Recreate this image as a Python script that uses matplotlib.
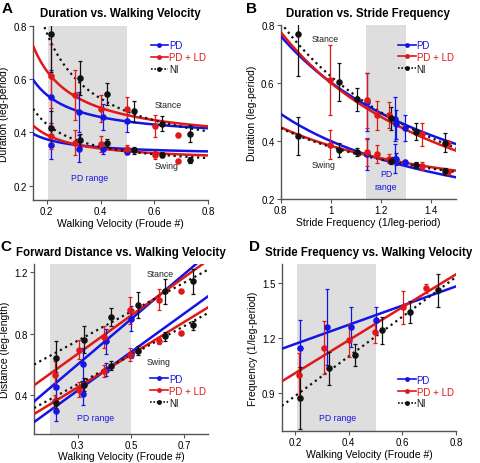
import matplotlib.pyplot as plt
import numpy as np

plt.rcParams['font.family'] = ['Liberation Sans', 'DejaVu Sans']

BLUE = '#1414e6'
RED = '#e01818'
BLACK = '#111111'

# ---- walking velocity (Froude #) of each group
vel_pd = [0.218, 0.319, 0.408, 0.5]
vel_ld = [0.216, 0.307, 0.40, 0.498, 0.604, 0.688]
vel_ni = [0.218, 0.325, 0.424, 0.525, 0.629, 0.733]

# ---- stride frequency (1/leg-period)
freq_pd = [1.145, 1.258, 1.26, 1.298]
freq_pd_err = [0.15, 0.21, 0.11, 0.07]
freq_ld = [0.996, 1.145, 1.185, 1.233, 1.365, 1.47]
freq_ld_err = [0.12, 0.145, 0.09, 0.06, 0.09, 0.025]
freq_ni = [0.869, 1.033, 1.106, 1.24, 1.339, 1.458]
freq_ni_err = [0.17, 0.09, 0.06, 0.075, 0.06, 0.09]

# ---- stance / swing duration (leg-period)
stance_pd = [0.535, 0.476, 0.458, 0.445]
stance_pd_err = [0.1, 0.075, 0.05, 0.045]
stance_ld = [0.611, 0.541, 0.489, 0.489, 0.424, 0.392]
stance_ld_err = [0.12, 0.095, 0.05, 0.045, 0.04, 0.0]
stance_ni = [0.771, 0.604, 0.545, 0.479, 0.433, 0.395]
stance_ni_err = [0.145, 0.065, 0.04, 0.04, 0.028, 0.032]
swing_pd = [0.354, 0.339, 0.339, 0.327]
swing_pd_err = [0.055, 0.05, 0.02, 0.008]
swing_ld = [0.387, 0.362, 0.356, 0.339, 0.314, 0.292]
swing_ld_err = [0.05, 0.048, 0.03, 0.015, 0.015, 0.0]
swing_ni = [0.417, 0.37, 0.362, 0.333, 0.317, 0.296]
swing_ni_err = [0.065, 0.025, 0.015, 0.012, 0.01, 0.012]

# ---- forward distance (leg-length)
dist_st_pd = [0.452, 0.6, 0.751, 0.898]
dist_st_pd_err = [0.1, 0.11, 0.08, 0.08]
dist_st_ld = [0.53, 0.697, 0.777, 0.951, 1.022, 1.076]
dist_st_ld_err = [0.09, 0.06, 0.07, 0.09, 0.07, 0.0]
dist_st_ni = [0.643, 0.762, 0.907, 0.985, 1.076, 1.141]
dist_st_ni_err = [0.11, 0.09, 0.06, 0.085, 0.08, 0.08]
dist_sw_pd = [0.295, 0.408, 0.567, 0.664]
dist_sw_pd_err = [0.06, 0.07, 0.04, 0.02]
dist_sw_ld = [0.36, 0.436, 0.556, 0.664, 0.751, 0.805]
dist_sw_ld_err = [0.04, 0.05, 0.04, 0.04, 0.02, 0.0]
dist_sw_ni = [0.35, 0.469, 0.593, 0.69, 0.784, 0.855]
dist_sw_ni_err = [0.03, 0.04, 0.03, 0.03, 0.03, 0.03]

# ---- fitted curves: values at the two ends of the x range
# A: duration = a + b / velocity, x from 0.15 to 0.8
fitA_ends = {'stance': {'pd': (0.598, 0.416), 'ld': (0.725, 0.423), 'ni': (0.94, 0.404)},
             'swing': {'pd': (0.395, 0.329), 'ld': (0.426, 0.314), 'ni': (0.489, 0.304)}}
# B: duration = a + b / frequency, x from 0.8 to 1.5
fitB_ends = {'stance': {'pd': (0.763, 0.39), 'ld': (0.777, 0.367), 'ni': (0.81, 0.376)},
             'swing': {'pd': (0.494, 0.275), 'ld': (0.448, 0.298), 'ni': (0.445, 0.293)}}
# C: straight lines, x from 0.137 to 0.79
fitC_ends = {'stance': {'pd': (0.36, 1.32), 'ld': (0.465, 1.279), 'ni': (0.6, 1.217)},
             'swing': {'pd': (0.226, 1.044), 'ld': (0.278, 0.972), 'ni': (0.317, 0.935)}}
# D: straight lines, x from 0.15 to 0.8
fitD_ends = {'pd': (1.139, 1.48), 'ld': (0.961, 1.546), 'ni': (0.827, 1.531)}

style = {'pd': dict(color=BLUE, ls='-', label='PD'),
         'ld': dict(color=RED, ls='-', label='PD + LD'),
         'ni': dict(color=BLACK, ls=':', label='NI')}


def recip_curve(x0, x1, ends, n=200):
    y0, y1 = ends
    b = (y0 - y1) / (1 / x0 - 1 / x1)
    a = y0 - b / x0
    x = np.linspace(x0, x1, n)
    return x, a + b / x


def line(x0, x1, ends):
    return [x0, x1], list(ends)


def pts(ax, x, y, err, key):
    c = style[key]['color']
    ax.errorbar(x, y, yerr=err, fmt='o', color=c, ms=3.7, elinewidth=0.9,
                capsize=1.5, capthick=0.9, zorder=4)


def fit(ax, x, y, key):
    s = style[key]
    lw = 1.6 if key == 'ni' else 1.8
    ax.plot(x, y, color=s['color'], ls=s['ls'], lw=lw, zorder=3)


def handles_legend(ax, loc, bbox):
    hs = []
    for key in ['pd', 'ld', 'ni']:
        s = style[key]
        h, = ax.plot([], [], color=s['color'], ls='-' if key != 'ni' else (0, (1, 1)),
                     lw=1.2, marker='o', ms=2.5, label=s['label'])
        hs.append(h)
    leg = ax.legend(handles=hs, loc=loc, bbox_to_anchor=bbox, frameon=False,
                    fontsize=7, handlelength=1.8, handletextpad=0.1,
                    labelspacing=0.2, borderaxespad=0.2)
    for t, key in zip(leg.get_texts(), ['pd', 'ld', 'ni']):
        t.set_color(style[key]['color'])


def style_ax(ax):
    for side in ['top', 'right']:
        ax.spines[side].set_visible(False)
    for side in ['left', 'bottom']:
        ax.spines[side].set_color('#555555')
        ax.spines[side].set_linewidth(1.0)
    ax.tick_params(labelsize=7, length=3, width=0.8, color='#555555', pad=1.5)


fig = plt.figure(figsize=(4.8, 4.64), dpi=100)
axA = fig.add_axes([0.069, 0.567, 0.365, 0.375])
axB = fig.add_axes([0.585, 0.569, 0.365, 0.374])
axC = fig.add_axes([0.071, 0.063, 0.363, 0.365])
axD = fig.add_axes([0.587, 0.069, 0.363, 0.359])

gray = '#dedede'
lab_fs = 7.5

# ---------------- A
axA.axvspan(0.205, 0.5, color=gray, zorder=0, lw=0)
for phase in ['stance', 'swing']:
    for key in ['pd', 'ld', 'ni']:
        x, y = recip_curve(0.15, 0.8, fitA_ends[phase][key])
        fit(axA, x, y, key)
pts(axA, vel_pd, stance_pd, stance_pd_err, 'pd')
pts(axA, vel_ld, stance_ld, stance_ld_err, 'ld')
pts(axA, vel_ni, stance_ni, stance_ni_err, 'ni')
pts(axA, vel_pd, swing_pd, swing_pd_err, 'pd')
pts(axA, vel_ld, swing_ld, swing_ld_err, 'ld')
pts(axA, vel_ni, swing_ni, swing_ni_err, 'ni')
axA.set_xlim(0.15, 0.8)
axA.set_ylim(0.147, 0.8)
axA.set_xticks([0.2, 0.4, 0.6, 0.8])
axA.set_yticks([0.2, 0.4, 0.6, 0.8])
axA.set_xlabel('Walking Velocity (Froude #)', fontsize=lab_fs, labelpad=1)
axA.set_ylabel('Duration (leg-period)', fontsize=lab_fs, labelpad=3)
axA.text(0.6, 0.495, 'Stance', fontsize=6.3, color='#222222')
axA.text(0.6, 0.265, 'Swing', fontsize=6.3, color='#222222')
axA.text(0.36, 0.22, 'PD range', fontsize=6.3, color=BLUE, ha='center')
handles_legend(axA, 'upper right', (1.02, 0.95))
axA.set_title('Duration vs. Walking Velocity', fontsize=8.3, fontweight='bold', pad=7)

# ---------------- B
axB.axvspan(1.14, 1.3, color=gray, zorder=0, lw=0)
for phase in ['stance', 'swing']:
    for key in ['pd', 'ld', 'ni']:
        x, y = recip_curve(0.8, 1.5, fitB_ends[phase][key])
        fit(axB, x, y, key)
pts(axB, freq_pd, stance_pd, stance_pd_err, 'pd')
pts(axB, freq_ld, stance_ld, stance_ld_err, 'ld')
pts(axB, freq_ni, stance_ni, stance_ni_err, 'ni')
pts(axB, freq_pd, swing_pd, swing_pd_err, 'pd')
pts(axB, freq_ld, swing_ld, swing_ld_err, 'ld')
pts(axB, freq_ni, swing_ni, swing_ni_err, 'ni')
axB.set_xlim(0.8, 1.5)
axB.set_ylim(0.2, 0.8)
axB.set_xticks([0.8, 1.0, 1.2, 1.4])
axB.set_xticklabels(['0.8', '1', '1.2', '1.4'])
axB.set_yticks([0.2, 0.4, 0.6, 0.8])
axB.set_xlabel('Stride Frequency (1/leg-period)', fontsize=lab_fs, labelpad=1)
axB.set_ylabel('Duration (leg-period)', fontsize=lab_fs, labelpad=3)
axB.text(0.925, 0.745, 'Stance', fontsize=6.3, color='#222222')
axB.text(0.925, 0.31, 'Swing', fontsize=6.3, color='#222222')
axB.text(1.22, 0.235, 'PD\nrange', fontsize=6.3, color=BLUE, ha='center',
         linespacing=1.6)
handles_legend(axB, 'upper right', (1.02, 0.95))
axB.set_title('Duration vs. Stride Frequency', fontsize=8.3, fontweight='bold', pad=7)

# ---------------- C
axC.axvspan(0.198, 0.5, color=gray, zorder=0, lw=0)
for phase in ['stance', 'swing']:
    for key in ['pd', 'ld', 'ni']:
        x, y = line(0.137, 0.79, fitC_ends[phase][key])
        fit(axC, x, y, key)
pts(axC, vel_pd, dist_st_pd, dist_st_pd_err, 'pd')
pts(axC, vel_ld, dist_st_ld, dist_st_ld_err, 'ld')
pts(axC, vel_ni, dist_st_ni, dist_st_ni_err, 'ni')
pts(axC, vel_pd, dist_sw_pd, dist_sw_pd_err, 'pd')
pts(axC, vel_ld, dist_sw_ld, dist_sw_ld_err, 'ld')
pts(axC, vel_ni, dist_sw_ni, dist_sw_ni_err, 'ni')
axC.set_xlim(0.137, 0.79)
axC.set_ylim(0.15, 1.25)
axC.set_xticks([0.3, 0.5, 0.7])
axC.set_yticks([0.4, 0.8, 1.2])
axC.set_xlabel('Walking Velocity (Froude #)', fontsize=lab_fs, labelpad=1)
axC.set_ylabel('Distance (leg-length)', fontsize=lab_fs, labelpad=3)
axC.text(0.56, 1.175, 'Stance', fontsize=6.3, color='#222222')
axC.text(0.56, 0.605, 'Swing', fontsize=6.3, color='#222222')
axC.text(0.366, 0.24, 'PD range', fontsize=6.3, color=BLUE, ha='center')
handles_legend(axC, 'lower right', (1.02, 0.12))
axC.set_title('Forward Distance vs. Walking Velocity', fontsize=8.3,
              fontweight='bold', pad=7)

# ---------------- D
axD.axvspan(0.205, 0.5, color=gray, zorder=0, lw=0)
for key in ['pd', 'ld', 'ni']:
    x, y = line(0.15, 0.8, fitD_ends[key])
    fit(axD, x, y, key)
pts(axD, vel_pd, freq_pd, freq_pd_err, 'pd')
pts(axD, vel_ld, freq_ld, freq_ld_err, 'ld')
pts(axD, vel_ni, freq_ni, freq_ni_err, 'ni')
axD.set_xlim(0.15, 0.8)
axD.set_ylim(0.69, 1.6)
axD.set_xticks([0.2, 0.4, 0.6, 0.8])
axD.set_yticks([0.9, 1.2, 1.5])
axD.set_xlabel('Walking Velocity (Froude #)', fontsize=lab_fs, labelpad=1)
axD.set_ylabel('Frequency (1/leg-period)', fontsize=lab_fs, labelpad=3)
axD.text(0.36, 0.75, 'PD range', fontsize=6.3, color=BLUE, ha='center')
handles_legend(axD, 'lower right', (1.02, 0.1))
axD.set_title('Stride Frequency vs. Walking Velocity', fontsize=8.3,
              fontweight='bold', pad=7)

for ax in [axA, axB, axC, axD]:
    style_ax(ax)

fig.text(0.004, 0.995, 'A', fontsize=11, fontweight='bold', va='top')
fig.text(0.512, 0.995, 'B', fontsize=11, fontweight='bold', va='top')
fig.text(0.0, 0.483, 'C', fontsize=11, fontweight='bold', va='top')
fig.text(0.518, 0.483, 'D', fontsize=11, fontweight='bold', va='top')

fig.savefig('out.png', dpi=100)
